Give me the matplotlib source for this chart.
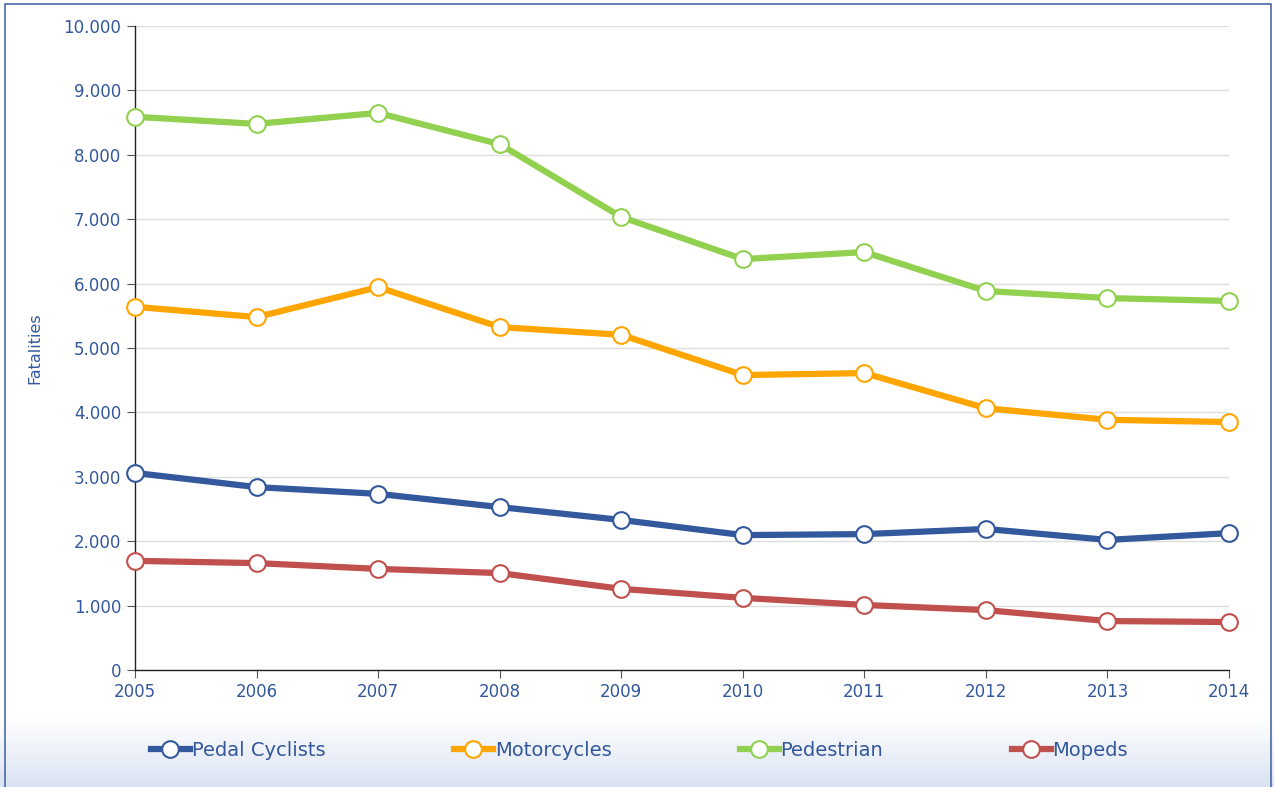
import numpy as np
import matplotlib
matplotlib.use("Agg")
import matplotlib.pyplot as plt
from matplotlib.patches import Rectangle

years = [2005, 2006, 2007, 2008, 2009, 2010, 2011, 2012, 2013, 2014]
pedal_cyclists = [3060, 2840, 2735, 2530, 2330, 2095, 2110, 2190, 2020, 2125]
motorcycles = [5640, 5480, 5945, 5325, 5205, 4580, 4610, 4065, 3885, 3850]
pedestrian = [8590, 8480, 8650, 8165, 7035, 6380, 6490, 5885, 5775, 5730]
mopeds = [1695, 1660, 1570, 1505, 1260, 1120, 1010, 930, 760, 745]

series = [
    ("Pedal Cyclists", pedal_cyclists, "#33589c"),
    ("Motorcycles", motorcycles, "#ffa500"),
    ("Pedestrian", pedestrian, "#92d050"),
    ("Mopeds", mopeds, "#c0504d"),
]
text_color = "#33589c"

fig = plt.figure(figsize=(12.74, 7.87), dpi=100)

# light blue gradient band behind the legend
grad_ax = fig.add_axes([0, 0, 1, 0.09])
grad = np.linspace(0, 1, 100).reshape(-1, 1)
grad_ax.imshow(grad, aspect="auto", cmap=matplotlib.colors.LinearSegmentedColormap.from_list(
    "g", ["#dbe3f2", "#ffffff"]), origin="lower", extent=[0, 1, 0, 1])
grad_ax.axis("off")

# outer border
fig.patches.append(Rectangle((5 / 1274, -0.01), 1266 / 1274, 1 - 4 / 787 + 0.01,
                             transform=fig.transFigure, fill=False,
                             edgecolor="#4a6aa8", linewidth=1.2))

ax = fig.add_axes([135 / 1274, 1 - 670 / 787, 1094 / 1274, 644 / 787])
for name, vals, col in series:
    ax.plot(years, vals, color=col, linewidth=4.5, marker="o", markersize=12,
            markerfacecolor="white", markeredgecolor=col, markeredgewidth=1.5,
            label=name, clip_on=False, zorder=3)

ax.set_xlim(2005, 2014)
ax.set_ylim(0, 10000)
ax.set_yticks(range(0, 10001, 1000))
ax.set_yticklabels(["0"] + [f"{v // 1000}.000" for v in range(1000, 10001, 1000)])
ax.set_xticks(years)
ax.grid(axis="y", color="#dddddd", linewidth=1)
ax.set_axisbelow(True)
for s in ["top", "right"]:
    ax.spines[s].set_visible(False)
for s in ["left", "bottom"]:
    ax.spines[s].set_color("#222222")
    ax.spines[s].set_linewidth(1)
ax.tick_params(axis="both", colors="#555555", labelcolor=text_color, labelsize=12,
               length=6, direction="out")
ax.tick_params(axis="y", pad=4)
ax.set_ylabel("Fatalities", color=text_color, fontsize=11.5, labelpad=15)

handles, labels = ax.get_legend_handles_labels()
leg = fig.legend(handles, labels, loc="center", bbox_to_anchor=(0.502, 37 / 787), ncol=4,
                 frameon=False, fontsize=14, handlelength=2.0, handletextpad=0.1,
                 columnspacing=6.6, labelcolor=text_color)

fig.savefig("out.png", dpi=100)
